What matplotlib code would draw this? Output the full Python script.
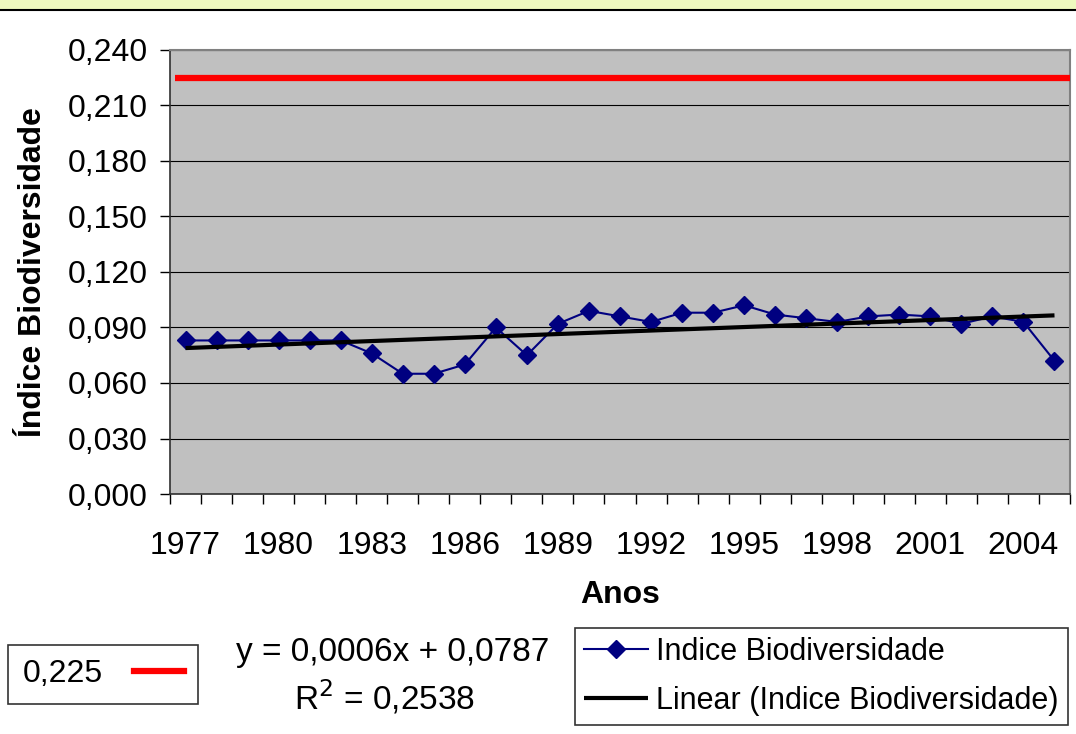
import numpy as np
import matplotlib
matplotlib.use("Agg")
import matplotlib.pyplot as plt
from matplotlib.lines import Line2D
from matplotlib.patches import Rectangle
from matplotlib.ticker import FuncFormatter

years = list(range(1977, 2006))
indice = [0.083, 0.083, 0.083, 0.083, 0.083, 0.083, 0.076, 0.065, 0.065, 0.070,
          0.090, 0.075, 0.092, 0.099, 0.096, 0.093, 0.098, 0.098, 0.102, 0.097,
          0.095, 0.093, 0.096, 0.097, 0.096, 0.092, 0.096, 0.093, 0.072]
reference_value = 0.225
y_ticks = [0.000, 0.030, 0.060, 0.090, 0.120, 0.150, 0.180, 0.210, 0.240]
year_labels = [1977, 1980, 1983, 1986, 1989, 1992, 1995, 1998, 2001, 2004]
equation_text = "y = 0,0006x + 0,0787"
r2_text = "R$^{2}$ = 0,2538"

plt.rcParams['font.family'] = ['Liberation Sans', 'DejaVu Sans']
FS = 23
LFS = 22

fig = plt.figure(figsize=(10.76, 7.34), dpi=100)
W, H = 1076, 734

# top banner
fig.patches.append(Rectangle((0, 1 - 9 / H), 1, 9 / H, transform=fig.transFigure,
                             facecolor='#EFFABF', edgecolor='none', zorder=0))
fig.lines.append(Line2D([0, 1], [1 - 9.5 / H, 1 - 9.5 / H], transform=fig.transFigure,
                        color='black', lw=1.5))

ax = fig.add_axes([170 / W, 1 - 494 / H, 900 / W, 444 / H])
ax.set_facecolor('#C0C0C0')

x = np.arange(1, len(years) + 1)
ax.set_xlim(0.5, len(years) + 0.5)
ax.set_ylim(0, 0.24)

# gridlines
ax.set_yticks(y_ticks)
ax.yaxis.grid(True, color='black', lw=0.8)
ax.set_axisbelow(True)
ax.yaxis.set_major_formatter(FuncFormatter(lambda v, p: f"{v:.3f}".replace('.', ',')))
ax.tick_params(axis='y', direction='out', length=7, width=1, labelsize=FS, pad=9, colors='black')

# x ticks: marks between categories, labels every 3 years
ax.set_xticks(np.arange(0.5, len(years) + 1, 1.0))
ax.set_xticklabels([])
ax.tick_params(axis='x', which='major', direction='out', length=7, width=1)
lab_pos = [years.index(yv) + 1 for yv in year_labels]
ax.set_xticks(lab_pos, minor=True)
ax.set_xticklabels([str(v) for v in year_labels], minor=True)
ax.tick_params(axis='x', which='minor', length=0, labelsize=FS, pad=27)

for s in ['top', 'right']:
    ax.spines[s].set_color('#808080')
    ax.spines[s].set_linewidth(1.5)
for s in ['left', 'bottom']:
    ax.spines[s].set_color('#303030')
    ax.spines[s].set_linewidth(1.2)

# reference line
ax.hlines(reference_value, 0.66, len(years) + 0.5, color='#FF0000', lw=4.5, zorder=3)

# series
ser, = ax.plot(x, indice, color='#000080', lw=1.5, marker='D', markersize=9.5,
               markerfacecolor='#000080', markeredgecolor='#000080', zorder=4)
coef = np.polyfit(x, indice, 1)
trend, = ax.plot(x, np.polyval(coef, x), color='black', lw=3, zorder=5,
                 solid_capstyle='butt')

ax.set_xlabel('Anos', fontsize=FS, fontweight='bold', labelpad=13)
ax.set_ylabel('Índice Biodiversidade', fontsize=FS, fontweight='bold', labelpad=14)

# legends
ref_handle = Line2D([], [], color='#FF0000', lw=4.5)
leg1 = fig.legend([ref_handle], ['0,225'], loc='upper left',
                  bbox_to_anchor=(8 / W, 1 - 645 / H), borderaxespad=0,
                  markerfirst=False, fontsize=FS, frameon=True, fancybox=False,
                  handlelength=1.55, handletextpad=1.0, borderpad=0.45)
leg1.get_frame().set_edgecolor('black')
leg1.get_frame().set_linewidth(1.2)

leg2 = fig.legend([ser, trend], ['Indice Biodiversidade', 'Linear (Indice Biodiversidade)'],
                  loc='upper left', bbox_to_anchor=(575 / W, 1 - 628 / H), borderaxespad=0,
                  fontsize=LFS, frameon=True, fancybox=False, handlelength=2.1,
                  handletextpad=0.25, borderpad=0.3, labelspacing=0.6)
leg2.get_frame().set_edgecolor('black')
leg2.get_frame().set_linewidth(1.2)

fig.text(393 / W, 1 - 652 / H, equation_text, fontsize=FS + 1, ha='center', va='center')
fig.text(385 / W, 1 - 697 / H, r2_text, fontsize=FS + 1, ha='center', va='center')

fig.savefig('out.png', dpi=100)
